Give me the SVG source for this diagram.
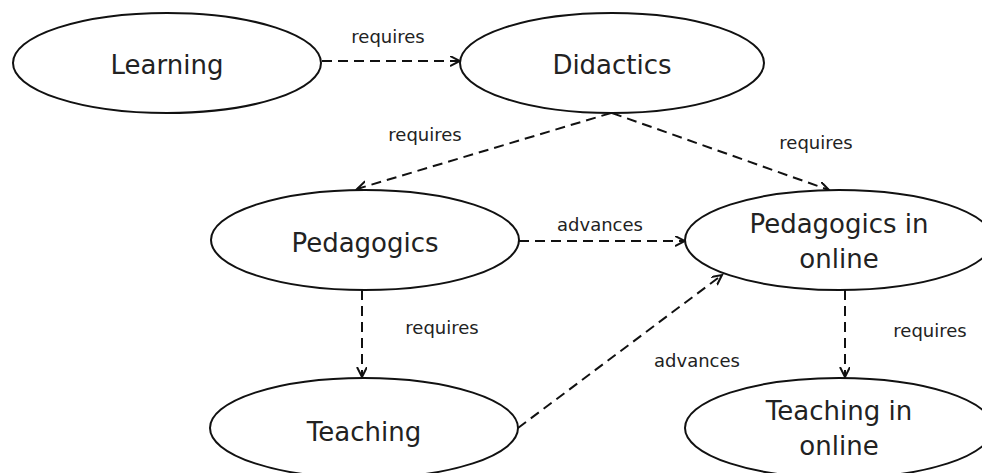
<svg xmlns="http://www.w3.org/2000/svg" width="982" height="473" viewBox="0 0 982 473">
<style>
.node ellipse{fill:#fff;stroke:#111;stroke-width:2}
.node text{font-family:"DejaVu Sans","Liberation Sans",sans-serif;font-size:26px;fill:#222;text-anchor:middle}
.edge{fill:none;stroke:#111;stroke-width:2;stroke-dasharray:10 6}
.lbl{font-family:"DejaVu Sans","Liberation Sans",sans-serif;font-size:18px;fill:#222;text-anchor:middle}
</style>
<defs>
<marker id="arr" markerUnits="userSpaceOnUse" markerWidth="12" markerHeight="12" refX="10" refY="5" orient="auto" viewBox="0 0 12 12">
<path d="M0,0 L10,5 L0,10" fill="none" stroke="#111" stroke-width="2"/>
</marker>
</defs>
<g id="connectors">
<line class="edge" x1="322" y1="61" x2="460" y2="61" marker-end="url(#arr)"/>
<line class="edge" x1="611" y1="113" x2="357" y2="189" marker-end="url(#arr)"/>
<line class="edge" x1="612" y1="113" x2="829" y2="190" marker-end="url(#arr)"/>
<line class="edge" x1="519" y1="241" x2="685" y2="241" marker-end="url(#arr)"/>
<line class="edge" x1="518" y1="428" x2="722" y2="275" marker-end="url(#arr)"/>
<line class="edge" x1="362" y1="290" x2="362" y2="377" marker-end="url(#arr)"/>
<line class="edge" x1="845" y1="290" x2="845" y2="377" marker-end="url(#arr)"/>
<text class="lbl" x="388" y="43">requires</text>
<text class="lbl" x="425" y="141">requires</text>
<text class="lbl" x="816" y="149">requires</text>
<text class="lbl" x="600" y="231">advances</text>
<text class="lbl" x="442" y="334">requires</text>
<text class="lbl" x="697" y="367">advances</text>
<text class="lbl" x="930" y="337">requires</text>
</g>
<g id="learning" class="node"><ellipse cx="167" cy="63" rx="154" ry="50"/><text x="167" y="74">Learning</text></g>
<g id="didactics" class="node"><ellipse cx="612" cy="63" rx="152" ry="50"/><text x="612" y="74">Didactics</text></g>
<g id="pedagogics" class="node"><ellipse cx="365" cy="240" rx="154" ry="50"/><text x="365" y="252">Pedagogics</text></g>
<g id="teaching" class="node"><ellipse cx="364" cy="428" rx="154" ry="50"/><text x="364" y="441">Teaching</text></g>
<g id="pedagogics-online" class="node"><ellipse cx="839" cy="240" rx="154" ry="50"/><text x="839" y="233">Pedagogics in</text><text x="839" y="268">online</text></g>
<g id="teaching-online" class="node"><ellipse cx="839" cy="428" rx="154" ry="50"/><text x="839" y="420">Teaching in</text><text x="839" y="455">online</text></g>
</svg>
